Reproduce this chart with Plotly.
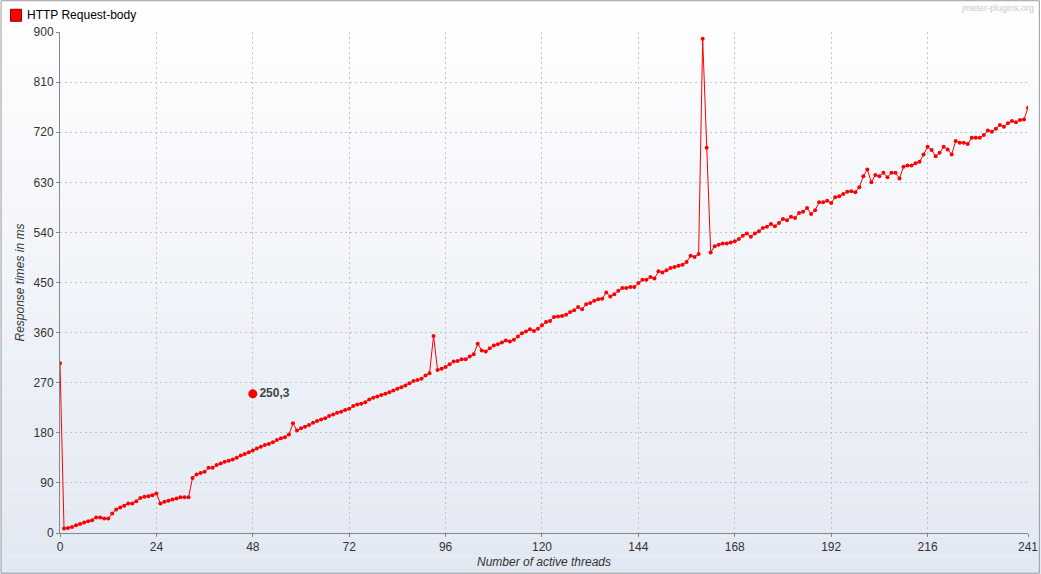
import plotly.graph_objects as go

threads = list(range(0, 242))
response_ms = [
    305, 8, 9, 11, 14, 16, 19, 21, 23, 28, 28, 26, 26, 35, 42, 46, 49, 53, 53, 57,
    63, 65, 66, 68, 71, 53, 56, 58, 60, 62, 64, 64, 64, 99, 105, 108, 110, 117, 117, 122,
    125, 128, 130, 132, 135, 139, 142, 145, 148, 152, 155, 158, 160, 163, 167, 170, 172, 177, 197, 184,
    188, 191, 194, 198, 201, 204, 206, 210, 213, 216, 218, 221, 223, 228, 231, 232, 235, 240, 243, 245,
    248, 250, 253, 256, 259, 262, 265, 269, 273, 275, 277, 283, 287, 354, 293, 295, 298, 303, 308, 309,
    312, 312, 317, 321, 340, 328, 326, 332, 337, 339, 342, 346, 344, 347, 353, 359, 362, 366, 363, 367,
    373, 379, 381, 388, 389, 390, 392, 397, 400, 406, 402, 411, 413, 417, 420, 421, 432, 425, 429, 435,
    440, 440, 442, 442, 449, 455, 455, 460, 457, 470, 468, 472, 476, 478, 480, 482, 487, 498, 496, 501,
    888, 692, 504, 515, 518, 520, 520, 522, 524, 528, 534, 538, 532, 538, 542, 548, 550, 555, 551, 557,
    564, 562, 568, 566, 575, 577, 584, 573, 580, 594, 594, 597, 593, 603, 605, 609, 613, 614, 612, 621,
    641, 653, 630, 643, 641, 647, 639, 647, 647, 637, 658, 660, 660, 664, 667, 680, 694, 688, 677, 683,
    694, 689, 680, 704, 701, 701, 699, 710, 710, 710, 715, 723, 721, 726, 733, 730, 736, 740, 738, 742,
    743, 764,
]
series_name = "HTTP Request-body"

hover_x = [48]
hover_y = [250]
hover_label = ["250,3"]

x_ticks = [0, 24, 48, 72, 96, 120, 144, 168, 192, 216, 241]
y_ticks = [0, 90, 180, 270, 360, 450, 540, 630, 720, 810, 900]

# target picture size and the (slightly larger) page size that is shown in it
RW, RH = 1041, 574
W, H = 1050, 579
KX, KY = W / RW, H / RH
# plot area in reference pixels
RL, RR, RT, RB = 59, 1028, 32, 532
L = round(RL * KX)
R = round(W - RR * KX)
T = round(RT * KY)
B = round(H - RB * KY)
PW, PH = W - L - R, H - T - B


def px_to_paper_x(px):
    return (px * KX - L) / PW


def px_to_paper_y(py):
    return (H - B - py * KY) / PH


fig = go.Figure()

fig.add_trace(go.Scatter(
    x=threads, y=response_ms, mode="lines+markers", name=series_name,
    line=dict(color="#ff0000", width=1),
    marker=dict(color="#ff0000", size=4),
    showlegend=False,
))

fig.add_trace(go.Scatter(
    x=hover_x, y=hover_y, mode="markers+text", text=hover_label,
    textposition="middle right",
    textfont=dict(family="Liberation Sans", size=12, color="#444444", weight="bold"),
    marker=dict(color="#ff0000", size=9),
    showlegend=False, cliponaxis=False,
))

shapes = []
n = 60
top = (255, 255, 255)
bot = (226, 232, 243)
for i in range(n):
    y0p = RH * i / n
    y1p = RH * (i + 1) / n
    f = (i + 0.5) / n
    c = tuple(round(top[k] + (bot[k] - top[k]) * f) for k in range(3))
    shapes.append(dict(type="rect", xref="paper", yref="paper", layer="below",
                       x0=px_to_paper_x(0), x1=px_to_paper_x(RW),
                       y0=px_to_paper_y(y1p), y1=px_to_paper_y(y0p),
                       line=dict(width=0), fillcolor="rgb(%d,%d,%d)" % c))
shapes.append(dict(type="rect", xref="paper", yref="paper", layer="above",
                   x0=px_to_paper_x(0.5), x1=px_to_paper_x(RW - 1.5),
                   y0=px_to_paper_y(RH - 1.5), y1=px_to_paper_y(0.5),
                   line=dict(width=1, color="#9a9a9a"), fillcolor="rgba(0,0,0,0)"))
shapes.append(dict(type="rect", xref="paper", yref="paper", layer="above",
                   x0=px_to_paper_x(10), x1=px_to_paper_x(21),
                   y0=px_to_paper_y(21), y1=px_to_paper_y(9),
                   line=dict(width=1, color="#8b0000"), fillcolor="#ff0000"))

annotations = [
    dict(text=series_name, xref="paper", yref="paper",
         x=px_to_paper_x(24), y=px_to_paper_y(15), xanchor="left", yanchor="middle",
         showarrow=False, font=dict(family="Liberation Sans", size=12, color="#000000")),
    dict(text="jmeter-plugins.org", xref="paper", yref="paper",
         x=px_to_paper_x(1036), y=px_to_paper_y(8), xanchor="right", yanchor="middle",
         showarrow=False, font=dict(family="Liberation Sans", size=9, color="#c8c8c8")),
]

fig.update_layout(
    width=W, height=H,
    margin=dict(l=L, r=R, t=T, b=B),
    paper_bgcolor="rgba(0,0,0,0)",
    plot_bgcolor="rgba(0,0,0,0)",
    hovermode=False,
    shapes=shapes,
    annotations=annotations,
    font=dict(family="Liberation Sans", size=12, color="#333333"),
    xaxis=dict(
        range=[0, 241], tickvals=x_ticks, ticktext=[str(v) for v in x_ticks],
        showgrid=True, gridcolor="#c4c4c4", griddash="2px,3px", gridwidth=1,
        showline=True, linecolor="#888888", linewidth=1,
        ticks="outside", ticklen=3, tickcolor="#888888",
        zeroline=False,
        tickfont=dict(size=12, color="#333333"),
        title=dict(text="Number of active threads", standoff=4,
                   font=dict(size=12, color="#333333", style="italic")),
    ),
    yaxis=dict(
        range=[0, 900], tickvals=y_ticks, ticktext=[str(v) for v in y_ticks],
        showgrid=True, gridcolor="#c4c4c4", griddash="2px,3px", gridwidth=1,
        showline=True, linecolor="#888888", linewidth=1,
        ticks="outside", ticklen=3, tickcolor="#888888",
        zeroline=False,
        tickfont=dict(size=12, color="#333333"),
        title=dict(text="Response times in ms", standoff=6,
                   font=dict(size=12, color="#333333", style="italic")),
    ),
)

page_fix = ("});document.body.style.margin='0';"
            "document.documentElement.style.overflow='hidden';"
            "document.body.style.overflow='hidden';(function(){")

fig.write_html(
    "out.html",
    config={"displayModeBar": False, "staticPlot": True},
    post_script=page_fix,
)
